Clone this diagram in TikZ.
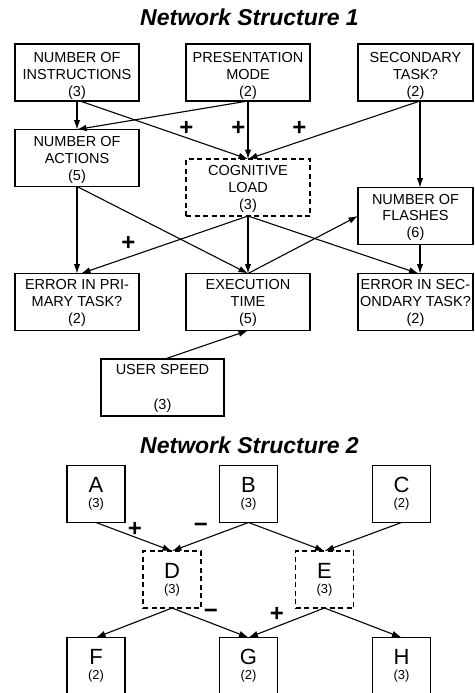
\documentclass[tikz,border=0pt]{standalone}
\usepackage{fontspec}
\setmainfont{Liberation Sans}
\usetikzlibrary{arrows.meta}

% large letter inside the small cells
\newcommand{\cellletter}{\fontsize{22}{15}\selectfont}

\tikzset{
  box/.style={draw, line width=1.6pt, inner sep=0pt, outer sep=0pt,
    minimum width=124pt, minimum height=57pt},
  narrowbox/.style={box, minimum width=115pt},
  hidden/.style={box, dash pattern=on 5pt off 3.5pt},
  txt/.style={align=center, inner sep=0pt,
    font=\fontsize{14.5}{16.7}\selectfont},
  title/.style={anchor=base, inner sep=0pt,
    font=\fontsize{23}{23}\selectfont\bfseries\itshape},
  sign/.style={inner sep=0pt, font=\fontsize{24}{24}\selectfont\bfseries},
  link/.style={line width=1.1pt, -{Latex[length=9.5pt,width=6.5pt]}},
  cell/.style={box, minimum width=58pt, align=center,
    font=\fontsize{13}{15}\selectfont},
  hcell/.style={cell, dash pattern=on 5pt off 3.5pt},
}

\begin{document}
\begin{tikzpicture}[x=1pt, y=-1pt]
  \useasboundingbox (0,0) rectangle (474,693);
  \fill[white] (0,0) rectangle (474,693);
  \clip (0,0) rectangle (474,693);

  % ---------- first network ----------
  \node[title] (title1) at (249.5,26) {Network Structure 1};

  \node[box] (instr) at (77,72.5) {};
  \node[box] (pres) at (248,72.5) {};
  \node[narrowbox] (sec) at (415.5,72.5) {};
  \node[box] (actions) at (77,158) {};
  \node[hidden] (cog) at (248,187.5) {};
  \node[narrowbox] (flash) at (415.5,216) {};
  \node[box] (errp) at (77,302) {};
  \node[box] (exec) at (248,302) {};
  \node[narrowbox] (errs) at (415.5,302) {};
  \node[box, minimum width=123pt] (user) at (162.5,387.5) {};

  \node[txt] (instr-t) at ([yshift=-3.5pt]instr.center) {NUMBER OF\\INSTRUCTIONS\\(3)};
  \node[txt] (pres-t) at ([yshift=-3.5pt]pres.center) {PRESENTATION\\MODE\\(2)};
  \node[txt] (sec-t) at ([yshift=-3.5pt]sec.center) {SECONDARY\\TASK?\\(2)};
  \node[txt] (actions-t) at ([yshift=-2pt]actions.center) {NUMBER OF\\ACTIONS\\(5)};
  \node[txt] (cog-t) at ([yshift=-1.5pt]cog.center) {COGNITIVE\\LOAD\\(3)};
  \node[txt] (flash-t) at ([yshift=-1.3pt]flash.center) {NUMBER OF\\FLASHES\\(6)};
  \node[txt] (errp-t) at ([yshift=-1pt]errp.center) {ERROR IN PRI-\\MARY TASK?\\(2)};
  \node[txt] (exec-t) at ([yshift=-1pt]exec.center) {EXECUTION\\TIME\\(5)};
  \node[txt] (errs-t) at ([yshift=-1pt]errs.center) {ERROR IN SEC-\\ONDARY TASK?\\(2)};
  \node[txt] (user-t) at ([yshift=-1.3pt]user.center) {USER SPEED\\[18.3pt](3)};

  % attachment points off the box centres
  \coordinate (sec-out) at ([xshift=4.5pt]sec.south);
  \coordinate (flash-in) at ([xshift=4.5pt]flash.north);
  \coordinate (flash-out) at ([xshift=4.5pt]flash.south);
  \coordinate (errs-in) at ([xshift=3pt]errs.north);
  \coordinate (errs-top) at ([xshift=4.5pt]errs.north);
  \coordinate (instr-out) at ([xshift=3pt]instr.south);
  \coordinate (errp-in) at ([xshift=4pt]errp.north);
  \coordinate (user-out) at ([xshift=2.5pt]user.north);

  \draw[link] (instr.south) -- (actions.north);
  \draw[link] (instr-out) -- (cog.north);
  \draw[link] (pres.south) -- (actions.north);
  \draw[link] (pres.south) -- (cog.north);
  \draw[link] (sec-out) -- (cog.north);
  \draw[link] (sec-out) -- (flash-in);
  \draw[link] (actions.south) -- (errp.north);
  \draw[link] (actions.south) -- (exec.north);
  \draw[link] (cog.south) -- (errp-in);
  \draw[link] (cog.south) -- (exec.north);
  \draw[link] (cog.south) -- (errs-in);
  \draw[link] (exec.north) -- (flash.west);
  \draw[link] (flash-out) -- (errs-top);
  \draw[link] (user-out) -- (exec.south);

  \node[sign] (p1) at (186.5,128) {+};
  \node[sign] (p2) at (238.5,128) {+};
  \node[sign] (p3) at (299.5,128) {+};
  \node[sign] (p4) at (128.5,243) {+};

  % ---------- second network ----------
  \node[title] (title2) at (249.5,453) {Network Structure 2};

  \node[cell] (A) at (96,494) {{\cellletter A}\\(3)};
  \node[cell] (B) at (248.5,494) {{\cellletter B}\\(3)};
  \node[cell] (C) at (401.5,494) {{\cellletter C}\\(2)};
  \node[hcell] (D) at (172,579.5) {{\cellletter D}\\(3)};
  \node[hcell] (E) at (324.5,579.5) {{\cellletter E}\\(3)};
  \node[cell] (F) at (96,666) {{\cellletter F}\\(2)};
  \node[cell] (G) at (248.5,666) {{\cellletter G}\\(2)};
  \node[cell] (H) at (401.5,666) {{\cellletter H}\\(3)};

  \draw[link] (A.south) -- (D.north);
  \draw[link] (B.south) -- (D.north);
  \draw[link] (B.south) -- (E.north);
  \draw[link] (C.south) -- (E.north);
  \draw[link] (D.south) -- (F.north);
  \draw[link] (D.south) -- (G.north);
  \draw[link] (E.south) -- (G.north);
  \draw[link] (E.south) -- (H.north);

  \node[sign] (q1) at (135,529) {+};
  \node[sign] (q2) at (201,528) {−};
  \node[sign] (q3) at (211,614) {−};
  \node[sign] (q4) at (277,614) {+};
\end{tikzpicture}
\end{document}
